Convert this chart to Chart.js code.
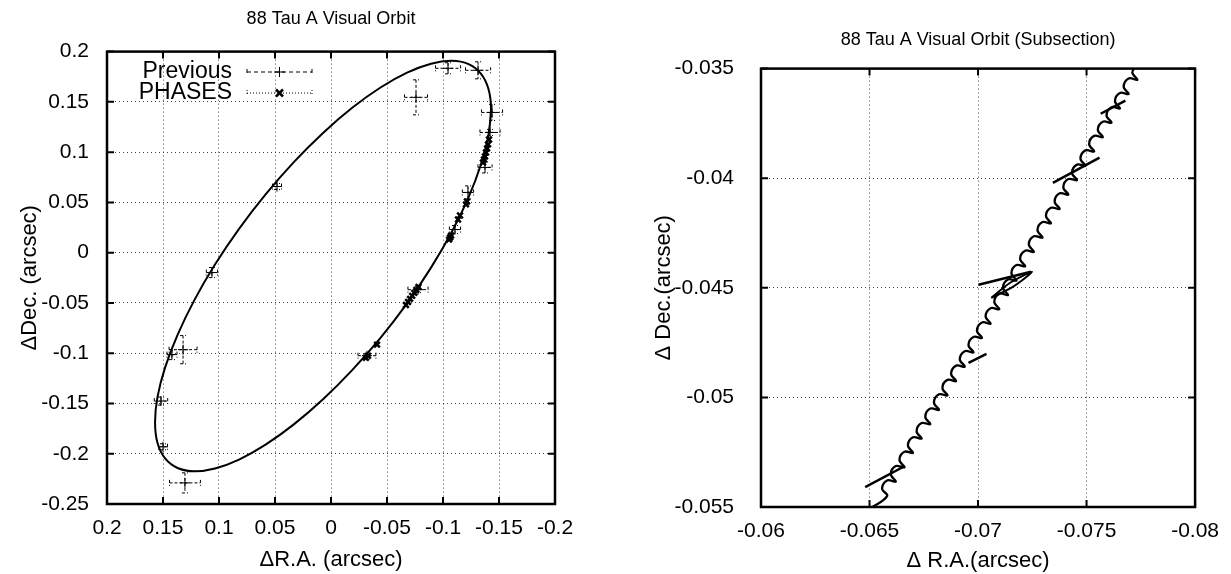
<!DOCTYPE html>
<html>
<head>
<meta charset="utf-8">
<title>88 Tau A Visual Orbit</title>
<script src="https://cdn.jsdelivr.net/npm/chart.js@4.4.0/dist/chart.umd.min.js"></script>
<style>
  html, body { margin: 0; padding: 0; background: #fff; }
  #wrap { position: relative; width: 1231px; height: 574px; }
  .pane { position: absolute; top: 0; height: 574px; }
  #orbitPane { left: 0; width: 615px; }
  #subPane { left: 615px; width: 616px; }
</style>
</head>
<body>
<div id="wrap">
  <div class="pane" id="orbitPane"><canvas id="orbitChart" width="615" height="574"></canvas></div>
  <div class="pane" id="subPane"><canvas id="subChart" width="616" height="574"></canvas></div>
</div>
<script>
// ---- left panel: full orbit ----
const orbitRATicks = [0.2, 0.15, 0.1, 0.05, 0, -0.05, -0.1, -0.15, -0.2];
const orbitDecTicks = [0.2, 0.15, 0.1, 0.05, 0, -0.05, -0.1, -0.15, -0.2, -0.25];

// fitted orbit, every ~10 deg around the ellipse (first two repeated to close it)
const orbitRA = [-0.1429, -0.1406, -0.1338, -0.1228, -0.1078, -0.0893, -0.0679, -0.0442, -0.0189, 0.0071,
  0.0332, 0.0584, 0.0821, 0.1036, 0.1220, 0.1370, 0.1481, 0.1549, 0.1571, 0.1549,
  0.1481, 0.1370, 0.1220, 0.1036, 0.0821, 0.0584, 0.0332, 0.0071, -0.0189, -0.0442,
  -0.0679, -0.0893, -0.1078, -0.1228, -0.1338, -0.1406, -0.1429, -0.1406];
const orbitDec = [0.1420, 0.1167, 0.0874, 0.0550, 0.0205, -0.0149, -0.0504, -0.0847, -0.1168, -0.1458,
  -0.1708, -0.1910, -0.2058, -0.2147, -0.2175, -0.2142, -0.2047, -0.1894, -0.1687, -0.1434,
  -0.1141, -0.0817, -0.0472, -0.0118, 0.0237, 0.0580, 0.0901, 0.1191, 0.1441, 0.1643,
  0.1791, 0.1880, 0.1908, 0.1875, 0.1780, 0.1627, 0.1420, 0.1167];

// earlier measurements with their error bars
const prevRA = [-0.1045, -0.1313, -0.0759, -0.1438, -0.1420, -0.1375, -0.1223, -0.1107, 0.0482,
  0.1063, -0.0777, 0.1321, 0.1420, 0.1518, 0.1500, 0.1304, -0.0321];
const prevDec = [0.1834, 0.1814, 0.1545, 0.1395, 0.1196, 0.0848, 0.0599, 0.0230, 0.0658,
  -0.0198, -0.0368, -0.0965, -0.1014, -0.1476, -0.1931, -0.2290, -0.1025];
const prevRAErr = [0.0112, 0.0112, 0.0103, 0.0094, 0.0090, 0.0063, 0.0050, 0.0050, 0.0040,
  0.0050, 0.0090, 0.0125, 0.0045, 0.0060, 0.0040, 0.0138, 0.0080];
const prevDecErr = [0.0055, 0.0085, 0.0174, 0.0080, 0.0030, 0.0055, 0.0065, 0.0040, 0.0030,
  0.0050, 0.0030, 0.0140, 0.0050, 0.0040, 0.0030, 0.0100, 0.0020];

// PHASES measurements
const phasesRA = [-0.1411, -0.1402, -0.1393, -0.1384, -0.1375, -0.1366, -0.1357, -0.1214, -0.1205,
  -0.1152, -0.1134, -0.1072, -0.1063, -0.1054, -0.0781, -0.0762, -0.0744, -0.0725, -0.0706,
  -0.0688, -0.0669, -0.0411, -0.0330, -0.0312];
const phasesDec = [0.1126, 0.1077, 0.1037, 0.0997, 0.0957, 0.0927, 0.0897, 0.0509, 0.0480,
  0.0370, 0.0330, 0.0170, 0.0150, 0.0130, -0.0340, -0.0370, -0.0400, -0.0430, -0.0460,
  -0.0490, -0.0520, -0.0915, -0.1025, -0.1045];

const legendNames = ["Previous", "PHASES"];

// ---- right panel: subsection ----
const subRATicks = [-0.06, -0.065, -0.07, -0.075, -0.08];
const subDecTicks = [-0.035, -0.04, -0.045, -0.05, -0.055];

// wobbling track: cusp points and the two shoulder points of each arch
const wobbleStart = { ra: -0.06499, dec: -0.0551 };
const cuspRA = [-0.06581, -0.06621, -0.06661, -0.06700, -0.06740, -0.06780, -0.06820, -0.06859, -0.06899, -0.06939,
  -0.06979, -0.07018, -0.07058, -0.07098, -0.07138, -0.07177, -0.07217, -0.07257, -0.07297, -0.07336,
  -0.07376, -0.07416, -0.07456, -0.07495, -0.07535, -0.07575, -0.07615, -0.07654, -0.07694, -0.07734];
const cuspDec = [-0.05450, -0.05384, -0.05319, -0.05253, -0.05188, -0.05122, -0.05057, -0.04991, -0.04926, -0.04860,
  -0.04795, -0.04729, -0.04664, -0.04598, -0.04533, -0.04467, -0.04402, -0.04336, -0.04271, -0.04206,
  -0.04140, -0.04075, -0.04009, -0.03944, -0.03878, -0.03813, -0.03747, -0.03682, -0.03616, -0.03551];
const archLowRA = [-0.06558, -0.06598, -0.06638, -0.06677, -0.06717, -0.06757, -0.06797, -0.06836, -0.06876, -0.06916,
  -0.06956, -0.06995, -0.07035, -0.07075, -0.07115, -0.07154, -0.07194, -0.07234, -0.07274, -0.07313,
  -0.07353, -0.07393, -0.07433, -0.07472, -0.07512, -0.07552, -0.07592, -0.07631, -0.07671, -0.07711];
const archLowDec = [-0.05417, -0.05351, -0.05286, -0.05220, -0.05155, -0.05089, -0.05024, -0.04958, -0.04893, -0.04827,
  -0.04762, -0.04696, -0.04631, -0.04565, -0.04500, -0.04434, -0.04369, -0.04303, -0.04238, -0.04173,
  -0.04107, -0.04042, -0.03976, -0.03911, -0.03845, -0.03780, -0.03714, -0.03649, -0.03583, -0.03518];
const archHighRA = [-0.06581, -0.06621, -0.06661, -0.06700, -0.06740, -0.06780, -0.06820, -0.06859, -0.06899, -0.06939,
  -0.06979, -0.07018, -0.07058, -0.07098, -0.07138, -0.07177, -0.07217, -0.07257, -0.07297, -0.07336,
  -0.07376, -0.07416, -0.07456, -0.07495, -0.07535, -0.07575, -0.07615, -0.07654, -0.07694, -0.07734];
const archHighDec = [-0.05379, -0.05313, -0.05248, -0.05182, -0.05117, -0.05051, -0.04986, -0.04920, -0.04855, -0.04789,
  -0.04724, -0.04658, -0.04593, -0.04527, -0.04462, -0.04396, -0.04331, -0.04265, -0.04200, -0.04135,
  -0.04069, -0.04004, -0.03938, -0.03873, -0.03807, -0.03742, -0.03676, -0.03611, -0.03545, -0.03480];

// measurement axes drawn as short strokes
const segStartRA = [-0.06480, -0.06956, -0.07002, -0.07345, -0.07565];
const segStartDec = [-0.05409, -0.04842, -0.04486, -0.04021, -0.03706];
const segEndRA = [-0.06663, -0.07039, -0.07244, -0.07560, -0.07679];
const segEndDec = [-0.05313, -0.04801, -0.04427, -0.03906, -0.03646];
const loopRA = [-0.07061, -0.07148, -0.07249, -0.07162, -0.07061];
const loopDec = [-0.04546, -0.04477, -0.04427, -0.04495, -0.04546];

const FONT = "'Liberation Sans', Arial, Helvetica, sans-serif";
Chart.defaults.font.family = FONT;
Chart.defaults.font.size = 21;
Chart.defaults.color = "#000";

// border plus inward tick marks on all four sides, gnuplot style
const frame = {
  id: "frame",
  afterDatasetsDraw(chart) {
    const { ctx, chartArea: a, scales: { x, y } } = chart;
    ctx.save();
    ctx.strokeStyle = "#000";
    ctx.setLineDash([]);
    ctx.lineWidth = 2;
    ctx.beginPath();
    x.ticks.forEach(t => {
      const px = x.getPixelForValue(t.value);
      ctx.moveTo(px, a.bottom); ctx.lineTo(px, a.bottom - 7);
      ctx.moveTo(px, a.top); ctx.lineTo(px, a.top + 7);
    });
    y.ticks.forEach(t => {
      const py = y.getPixelForValue(t.value);
      ctx.moveTo(a.left, py); ctx.lineTo(a.left + 7, py);
      ctx.moveTo(a.right, py); ctx.lineTo(a.right - 7, py);
    });
    ctx.stroke();
    ctx.lineWidth = 2.5;
    ctx.strokeRect(a.left, a.top, a.right - a.left, a.bottom - a.top);
    ctx.restore();
  }
};

function bar(ctx, x1, y1, x2, y2, capX, capY) {
  ctx.moveTo(x1, y1); ctx.lineTo(x2, y2);
  ctx.moveTo(x1 - capX, y1 - capY); ctx.lineTo(x1 + capX, y1 + capY);
  ctx.moveTo(x2 - capX, y2 - capY); ctx.lineTo(x2 + capX, y2 + capY);
}

const errorBars = {
  id: "errorBars",
  afterDatasetsDraw(chart) {
    const { ctx, scales: { x, y } } = chart;
    ctx.save();
    ctx.strokeStyle = "#000";
    ctx.lineWidth = 1;
    ctx.setLineDash([3, 2]);
    ctx.beginPath();
    prevRA.forEach((ra, i) => {
      const px = x.getPixelForValue(ra);
      const py = y.getPixelForValue(prevDec[i]);
      bar(ctx, x.getPixelForValue(ra + prevRAErr[i]), py, x.getPixelForValue(ra - prevRAErr[i]), py, 0, 3);
      bar(ctx, px, y.getPixelForValue(prevDec[i] + prevDecErr[i]), px, y.getPixelForValue(prevDec[i] - prevDecErr[i]), 3, 0);
    });
    ctx.stroke();
    ctx.restore();
  }
};

const orbitLegend = {
  id: "orbitLegend",
  afterDraw(chart) {
    const ctx = chart.ctx;
    ctx.save();
    ctx.font = "23px " + FONT;
    ctx.fillStyle = "#000";
    ctx.strokeStyle = "#000";
    ctx.textAlign = "right";
    ctx.textBaseline = "middle";
    legendNames.forEach((name, i) => {
      const ty = 72 + i * 21;
      ctx.fillText(name, 232, ty);
      ctx.lineWidth = 1;
      ctx.setLineDash(i === 0 ? [4, 3] : [1, 2]);
      ctx.beginPath();
      bar(ctx, 247, ty, 312, ty, 0, 3);
      ctx.stroke();
      ctx.setLineDash([]);
      ctx.beginPath();
      if (i === 0) {
        ctx.lineWidth = 1;
        ctx.moveTo(274, ty); ctx.lineTo(285, ty);
        ctx.moveTo(279.5, ty - 5); ctx.lineTo(279.5, ty + 5);
      } else {
        ctx.lineWidth = 2.5;
        ctx.moveTo(276, ty - 3.5); ctx.lineTo(283, ty + 3.5);
        ctx.moveTo(276, ty + 3.5); ctx.lineTo(283, ty - 3.5);
      }
      ctx.stroke();
    });
    ctx.restore();
  }
};

function axis(min, max, reverse, tickList, pad, title, titlePad, fit) {
  return {
    type: "linear",
    min: min,
    max: max,
    reverse: reverse,
    afterBuildTicks(s) { s.ticks = tickList.map(v => ({ value: v })); },
    afterFit: fit,
    ticks: { callback: v => String(v), padding: pad, maxRotation: 0, autoSkip: false, font: { size: 21 } },
    grid: { color: "#444", lineWidth: 1, drawTicks: false },
    border: { display: false, dash: [1, 3] },
    title: { display: true, text: title, font: { size: 22 }, padding: titlePad }
  };
}

const orbitLine = orbitRA.map((ra, i) => ({ x: ra, y: orbitDec[i] }));
const prevPoints = prevRA.map((ra, i) => ({ x: ra, y: prevDec[i] }));
const phasesPoints = phasesRA.map((ra, i) => ({ x: ra, y: phasesDec[i] }));

new Chart(document.getElementById("orbitChart"), {
  type: "scatter",
  data: {
    datasets: [
      { label: "orbit", data: orbitLine, showLine: true, borderColor: "#000", borderWidth: 2, pointRadius: 0, tension: 0.4 },
      { label: "Previous", data: prevPoints, pointStyle: "cross", pointRadius: 5, borderColor: "#000", borderWidth: 1 },
      { label: "PHASES", data: phasesPoints, pointStyle: "crossRot", pointRadius: 4, borderColor: "#000", borderWidth: 2.5 }
    ]
  },
  options: {
    responsive: false,
    animation: false,
    layout: { padding: { left: 0, right: 60, top: 0, bottom: 0 } },
    plugins: {
      legend: { display: false },
      tooltip: { enabled: false },
      title: {
        display: true, text: "88 Tau A Visual Orbit", fullSize: false, color: "#000",
        font: { size: 18, weight: "normal" }, padding: { top: 8, bottom: 22 }
      }
    },
    scales: {
      x: axis(-0.2, 0.2, true, orbitRATicks, 12, "\u0394R.A. (arcsec)", { bottom: 1 }, s => { s.height = 70; }),
      y: axis(-0.25, 0.2, false, orbitDecTicks, 18, "\u0394Dec. (arcsec)", { top: 17 }, s => { s.width = 107; })
    }
  },
  plugins: [frame, errorBars, orbitLegend]
});

const wobble = [{ x: wobbleStart.ra, y: wobbleStart.dec }];
cuspRA.forEach((ra, k) => {
  wobble.push({ x: ra, y: cuspDec[k] }, { x: archLowRA[k], y: archLowDec[k] }, { x: archHighRA[k], y: archHighDec[k] });
});

const subSets = [
  { label: "track", data: wobble, showLine: true, borderColor: "#000", borderWidth: 2.3, pointRadius: 0, tension: 0.4 },
  { label: "loop", data: loopRA.map((ra, i) => ({ x: ra, y: loopDec[i] })), showLine: true, borderColor: "#000", borderWidth: 2, pointRadius: 0, tension: 0.3 }
];
segStartRA.forEach((ra, i) => {
  subSets.push({
    label: "seg" + i,
    data: [{ x: ra, y: segStartDec[i] }, { x: segEndRA[i], y: segEndDec[i] }],
    showLine: true, borderColor: "#000", borderWidth: 2.5, pointRadius: 0
  });
});

new Chart(document.getElementById("subChart"), {
  type: "scatter",
  data: { datasets: subSets },
  options: {
    responsive: false,
    animation: false,
    layout: { padding: { left: 0, right: 33, top: 0, bottom: 0 } },
    plugins: {
      legend: { display: false },
      tooltip: { enabled: false },
      title: {
        display: true, text: "88 Tau A Visual Orbit (Subsection)", fullSize: false, color: "#000",
        font: { size: 18, weight: "normal" }, padding: { top: 29, bottom: 18 }
      }
    },
    scales: {
      x: axis(-0.08, -0.06, true, subRATicks, 12, "\u0394 R.A.(arcsec)", { bottom: 0 }, s => { s.height = 67; }),
      y: axis(-0.055, -0.035, false, subDecTicks, 27, "\u0394 Dec.(arcsec)", { top: 36 }, s => { s.width = 146; })
    }
  },
  plugins: [frame]
});
</script>
</body>
</html>
